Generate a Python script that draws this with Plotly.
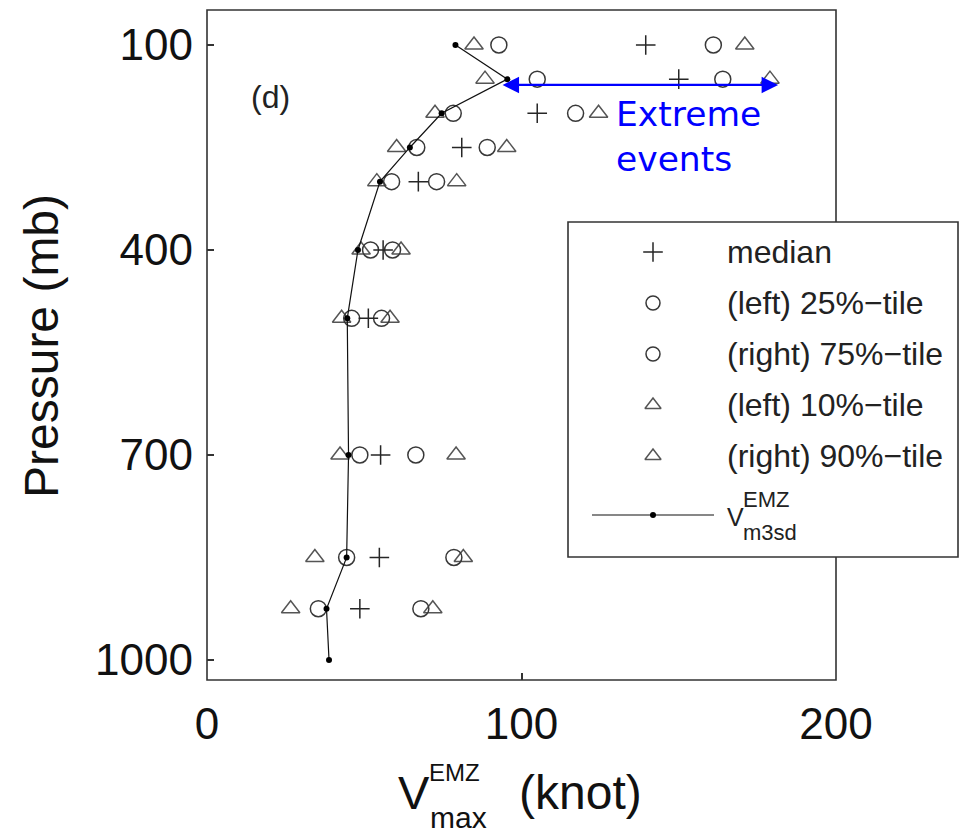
import plotly.graph_objects as go

# ---------------- data ----------------
pressure = [100, 150, 200, 250, 300, 400, 500, 700, 850, 925, 1000]
v_m3sd   = [79.0, 95.5, 74.6, 64.5, 55.0, 48.0, 44.6, 45.0, 44.4, 38.0, 38.8]
p_median = [139.5, 150.0, 105.0, 81.0, 67.2, 56.0, 51.3, 55.2, 54.8, 48.6, None]
p25      = [92.8, 105.0, 78.3, 66.7, 58.7, 52.0, 46.0, 48.6, 44.4, 35.4, None]
p75      = [161.0, 164.0, 117.2, 89.1, 73.0, 59.0, 55.5, 66.4, 78.5, 68.0, None]
p10      = [84.9, 88.4, 72.5, 60.3, 54.0, 49.0, 42.8, 42.3, 34.3, 26.6, None]
p90      = [171.0, 179.0, 124.5, 95.3, 79.4, 61.7, 58.2, 79.2, 81.5, 71.8, None]

x_ticks = [0, 100, 200]
y_ticks = [100, 400, 700, 1000]
legend_labels = ["median", "(left) 25%\u2212tile", "(right) 75%\u2212tile",
                 "(left) 10%\u2212tile", "(right) 90%\u2212tile"]
extreme_range = [93.5, 181.6]   # knots, extent of the "extreme events" arrow
extreme_level = 158.5           # mb

# ---------------- layout helpers ----------------
W, H = 964, 834
def px(x):
    return x / W
def py(y):
    return 1 - y / H

FONT = "Liberation Sans, Arial, sans-serif"
C_CIRC = "#383838"
C_TRI = "#555555"
C_PLUS = "#262626"
MLW = 1.5

fig = go.Figure()

# data traces
fig.add_trace(go.Scatter(x=p10, y=pressure, mode="markers",
                         marker=dict(symbol="triangle-up-open", size=16, color=C_TRI,
                                     line=dict(width=MLW, color=C_TRI)), showlegend=False))
fig.add_trace(go.Scatter(x=p90, y=pressure, mode="markers",
                         marker=dict(symbol="triangle-up-open", size=16, color=C_TRI,
                                     line=dict(width=MLW, color=C_TRI)), showlegend=False))
fig.add_trace(go.Scatter(x=p25, y=pressure, mode="markers",
                         marker=dict(symbol="circle-open", size=16, color=C_CIRC,
                                     line=dict(width=MLW, color=C_CIRC)), showlegend=False))
fig.add_trace(go.Scatter(x=p75, y=pressure, mode="markers",
                         marker=dict(symbol="circle-open", size=16, color=C_CIRC,
                                     line=dict(width=MLW, color=C_CIRC)), showlegend=False))
fig.add_trace(go.Scatter(x=p_median, y=pressure, mode="markers",
                         marker=dict(symbol="cross-thin-open", size=14, color=C_PLUS,
                                     line=dict(width=MLW, color=C_PLUS)), showlegend=False))
fig.add_trace(go.Scatter(x=v_m3sd, y=pressure, mode="lines+markers",
                         line=dict(color="#111111", width=1.2),
                         marker=dict(symbol="circle", size=6, color="#000000"),
                         showlegend=False))

# ---------------- custom legend (overlay pixel axes) ----------------
leg_sym_x = 653
leg_rows = [252, 303, 354, 405, 456]
leg_syms = [("cross-thin-open", C_PLUS, 14), ("circle-open", C_CIRC, 14),
            ("circle-open", C_CIRC, 14), ("triangle-up-open", C_TRI, 14),
            ("triangle-up-open", C_TRI, 14)]
for (sym, col, sz), ry in zip(leg_syms, leg_rows):
    fig.add_trace(go.Scatter(x=[leg_sym_x], y=[ry], xaxis="x2", yaxis="y2", mode="markers",
                             marker=dict(symbol=sym, size=sz, color=col,
                                         line=dict(width=MLW, color=col)),
                             showlegend=False, hoverinfo="skip"))
fig.add_trace(go.Scatter(x=[592, 714], y=[515, 515], xaxis="x2", yaxis="y2", mode="lines",
                         line=dict(color="#111111", width=1.2), showlegend=False, hoverinfo="skip"))
fig.add_trace(go.Scatter(x=[leg_sym_x], y=[515], xaxis="x2", yaxis="y2", mode="markers",
                         marker=dict(symbol="circle", size=6, color="#000000"),
                         showlegend=False, hoverinfo="skip"))

shapes = [
    dict(type="rect", xref="paper", yref="paper", x0=px(207), x1=px(836), y0=py(680), y1=py(10),
         line=dict(color="#333333", width=1.6), fillcolor="rgba(0,0,0,0)", layer="below"),
    dict(type="rect", xref="paper", yref="paper", x0=px(568), x1=px(958), y0=py(557), y1=py(222),
         line=dict(color="#333333", width=1.6), fillcolor="white", layer="below"),
]

annotations = []
for lab, ry in zip(legend_labels, leg_rows):
    annotations.append(dict(xref="paper", yref="paper", x=px(725), y=py(ry), text=lab,
                            xanchor="left", yanchor="middle", showarrow=False,
                            font=dict(family=FONT, size=32, color="#222222")))
annotations += [
    dict(xref="paper", yref="paper", x=px(725), y=py(517), text="V", xanchor="left",
         yanchor="middle", showarrow=False, font=dict(family=FONT, size=25, color="#222222")),
    dict(xref="paper", yref="paper", x=px(741), y=py(499), text="EMZ", xanchor="left",
         yanchor="middle", showarrow=False, font=dict(family=FONT, size=22, color="#222222")),
    dict(xref="paper", yref="paper", x=px(741), y=py(532), text="m3sd", xanchor="left",
         yanchor="middle", showarrow=False, font=dict(family=FONT, size=22, color="#222222")),
    # panel label
    dict(xref="paper", yref="paper", x=px(270), y=py(97), text="(d)", xanchor="center",
         yanchor="middle", showarrow=False, font=dict(family=FONT, size=32, color="#222222")),
    # extreme events text
    dict(xref="paper", yref="paper", x=px(614), y=py(136), text="Extreme<br>events",
         xanchor="left", yanchor="middle", align="left", showarrow=False,
         font=dict(family="DejaVu Sans, Verdana, sans-serif", size=34.5, color="#0000ff")),
    # extreme events double arrow
    dict(xref="x", yref="y", x=extreme_range[1], y=extreme_level,
         axref="x", ayref="y", ax=extreme_range[0], ay=extreme_level, text="",
         showarrow=True, arrowside="end+start", arrowhead=2, startarrowhead=2,
         arrowsize=1.5, startarrowsize=1.5, arrowwidth=2.2, arrowcolor="#0000ff",
         standoff=0, startstandoff=0),
    # y title
    dict(xref="paper", yref="paper", x=px(41), y=py(346), text="Pressure (mb)",
         textangle=-90, xanchor="center", yanchor="middle", showarrow=False,
         font=dict(family=FONT, size=48, color="#111111")),
    # x title pieces
    dict(xref="paper", yref="paper", x=px(396), y=py(792), text="V", xanchor="left",
         yanchor="middle", showarrow=False, font=dict(family=FONT, size=47, color="#111111")),
    dict(xref="paper", yref="paper", x=px(427), y=py(772), text="EMZ", xanchor="left",
         yanchor="middle", showarrow=False, font=dict(family=FONT, size=24, color="#111111")),
    dict(xref="paper", yref="paper", x=px(428), y=py(817), text="max", xanchor="left",
         yanchor="middle", showarrow=False, font=dict(family=FONT, size=30, color="#111111")),
    dict(xref="paper", yref="paper", x=px(517), y=py(792), text="(knot)", xanchor="left",
         yanchor="middle", showarrow=False, font=dict(family=FONT, size=48, color="#111111")),
]

y_lo = 1029.3
y_hi = 48.8

fig.update_layout(
    width=W, height=H, autosize=False,
    margin=dict(l=0, r=0, t=0, b=0, pad=0, autoexpand=False),
    paper_bgcolor="white", plot_bgcolor="rgba(0,0,0,0)",
    showlegend=False,
    shapes=shapes,
    annotations=annotations,
    xaxis=dict(domain=[px(207), px(836)], range=[0, 200], tickvals=x_ticks,
               ticks="inside", ticklen=7, tickwidth=1.5, tickcolor="#333333",
               showline=False, showgrid=False, zeroline=False, automargin=False,
               tickfont=dict(family=FONT, size=44, color="#111111"),
               ticklabelstandoff=14, anchor="y"),
    yaxis=dict(domain=[py(680), py(10)], range=[y_lo, y_hi], tickvals=y_ticks,
               ticks="inside", ticklen=7, tickwidth=1.5, tickcolor="#333333",
               showline=False, showgrid=False, zeroline=False, automargin=False,
               tickfont=dict(family=FONT, size=44, color="#111111"),
               ticklabelstandoff=13, anchor="x"),
    xaxis2=dict(domain=[0, 1], range=[0, W], visible=False, anchor="y2",
                fixedrange=True, automargin=False),
    yaxis2=dict(domain=[0, 1], range=[H, 0], visible=False, anchor="x2",
                fixedrange=True, automargin=False),
)

fig.write_html("out.html")
